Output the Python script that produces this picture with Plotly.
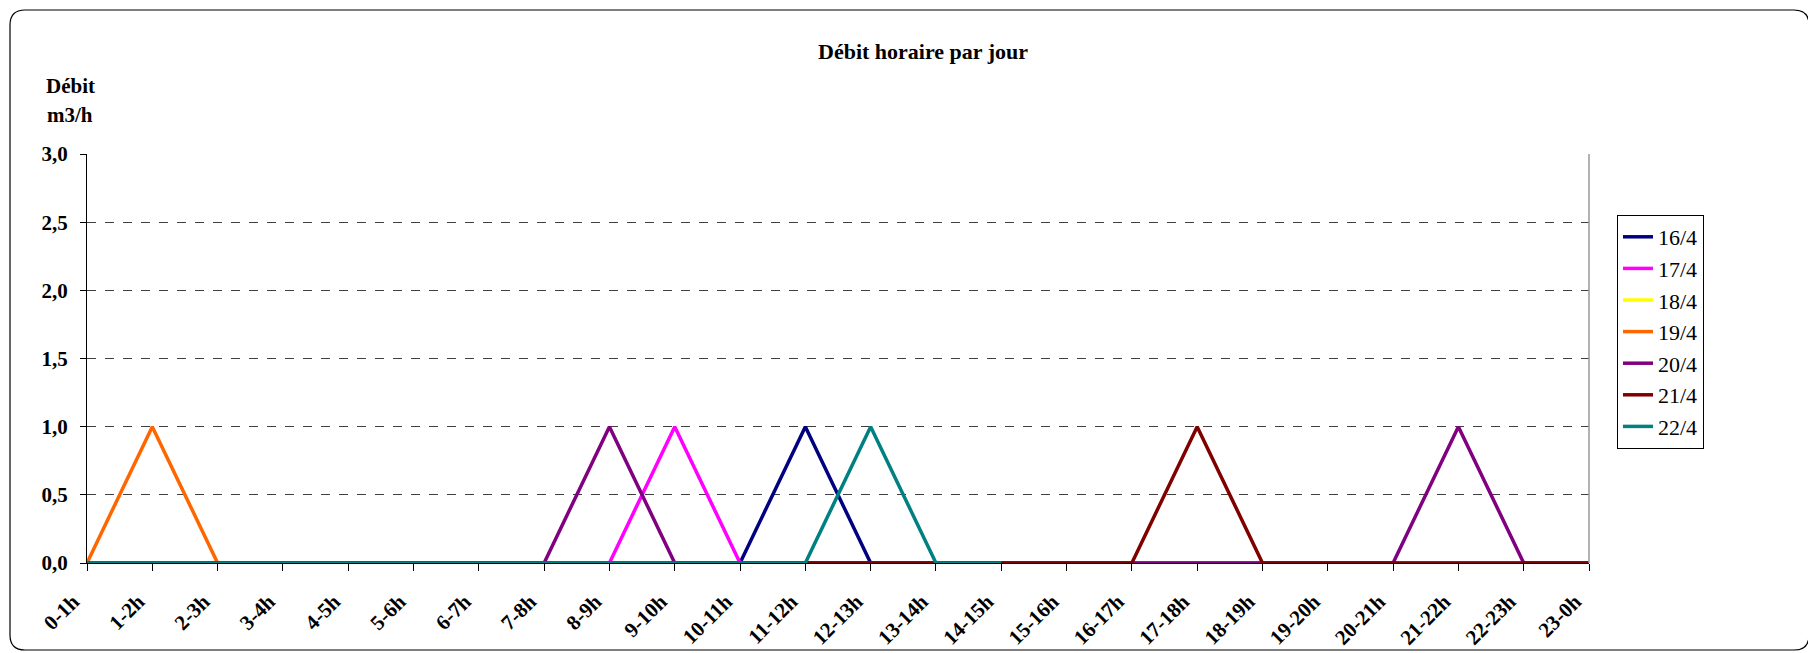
import plotly.graph_objects as go

hours = ["0-1h", "1-2h", "2-3h", "3-4h", "4-5h", "5-6h", "6-7h", "7-8h", "8-9h", "9-10h",
         "10-11h", "11-12h", "12-13h", "13-14h", "14-15h", "15-16h", "16-17h", "17-18h",
         "18-19h", "19-20h", "20-21h", "21-22h", "22-23h", "23-0h"]

d16 = [0, 0, 0, 0, 0, 0, 0, 0, 0, 0, 0, 1, 0, 0, 0, 0, 0, 0, 0, 0, 0, 0, 0, 0]
d17 = [0, 0, 0, 0, 0, 0, 0, 0, 0, 1, 0, 0, 0, 0, 0, 0, 0, 0, 0, 0, 0, 0, 0, 0]
d18 = [0, 0, 0, 0, 0, 0, 0, 0, 0, 0, 0, 0, 0, 0, 0, 0, 0, 0, 0, 0, 0, 0, 0, 0]
d19 = [0, 1, 0, 0, 0, 0, 0, 0, 0, 0, 0, 0, 0, 0, 0, 0, 0, 0, 0, 0, 0, 0, 0, 0]
d20 = [0, 0, 0, 0, 0, 0, 0, 0, 1, 0, 0, 0, 0, 0, 0, 0, 0, 0, 0, 0, 0, 1, 0, 0]
d21 = [0, 0, 0, 0, 0, 0, 0, 0, 0, 0, 0, 0, 0, 0, 0, 0, 0, 1, 0, 0, 0, 0, 0, 0]
d22 = [0, 0, 0, 0, 0, 0, 0, 0, 0, 0, 0, 0, 1, 0, 0]

series_names = ["16/4", "17/4", "18/4", "19/4", "20/4", "21/4", "22/4"]
series_values = [d16, d17, d18, d19, d20, d21, d22]
series_colors = ["#000080", "#FF00FF", "#FFFF00", "#FF6600", "#800080", "#800000", "#008080"]

FONT = "Liberation Serif"

fig = go.Figure()
for name, vals, col in zip(series_names, series_values, series_colors):
    fig.add_trace(go.Scatter(
        x=hours[:len(vals)], y=vals, name=name, mode="lines",
        line=dict(color=col, width=3.5),
    ))

# page has an 8px body margin: figure coords = page coords - 8
OFF = 8
W, H = 1808, 645
L, R, T, B = 87 - OFF, 1589 - OFF, 154 - OFF, 563 - OFF
pw, ph = R - L, B - T

def px(X):
    return (X - OFF - L) / pw

def py(Y):
    return (B - (Y - OFF)) / ph

# rounded border of chart (page coords)
x0, x1, y0, y1 = px(10), px(1809), py(650), py(10)
rx, ry = 15 / pw, 15 / ph
path = (f"M {x0+rx},{y1} L {x1-rx},{y1} Q {x1},{y1} {x1},{y1-ry} "
        f"L {x1},{y0+ry} Q {x1},{y0} {x1-rx},{y0} "
        f"L {x0+rx},{y0} Q {x0},{y0} {x0},{y0+ry} "
        f"L {x0},{y1-ry} Q {x0},{y1} {x0+rx},{y1} Z")

fig.update_layout(
    width=W, height=H,
    margin=dict(l=L, r=W - R, t=T, b=H - B, pad=0, autoexpand=False),
    paper_bgcolor="white", plot_bgcolor="white",
    separators=", ",
    font=dict(family=FONT, color="black", size=20),
    title=dict(text="<b>Débit horaire par jour</b>", x=(923 - OFF) / W, xref="container",
               xanchor="center", y=1 - (51 - OFF) / H, yref="container", yanchor="middle",
               font=dict(family=FONT, size=22, color="black")),
    showlegend=True,
    legend=dict(x=px(1617), y=py(215), xanchor="left", yanchor="top",
                bordercolor="black", borderwidth=1, bgcolor="white",
                font=dict(family=FONT, size=22, color="black"),
                tracegroupgap=0, itemwidth=30),
    shapes=[
        dict(type="path", xref="paper", yref="paper", path=path,
             line=dict(color="black", width=1.2), layer="below"),
        dict(type="line", xref="paper", yref="paper", x0=1, x1=1, y0=0, y1=1,
             line=dict(color="#999999", width=1.5)),
    ],
    annotations=[
        dict(text="<b>Débit</b>", xref="paper", yref="paper", x=px(70), y=py(86),
             xanchor="center", yanchor="middle", showarrow=False,
             font=dict(family=FONT, size=21, color="black")),
        dict(text="<b>m3/h</b>", xref="paper", yref="paper", x=px(70), y=py(115),
             xanchor="center", yanchor="middle", showarrow=False,
             font=dict(family=FONT, size=21, color="black")),
    ],
)

fig.update_xaxes(
    type="category", categoryorder="array", categoryarray=hours,
    range=[0, len(hours) - 1], automargin=False,
    showline=True, linecolor="black", linewidth=1,
    ticks="outside", ticklen=7, tickcolor="black", tickwidth=1,
    tickangle=-45, tickfont=dict(family=FONT, size=21, color="black", weight="bold"),
    showgrid=False, zeroline=False, ticklabelstandoff=10, ticklabelshift=-14,
)
fig.update_yaxes(
    range=[0, 3], dtick=0.5, tick0=0, tickformat=".1f", automargin=False,
    showline=True, linecolor="black", linewidth=1,
    ticks="outside", ticklen=6, tickcolor="black", tickwidth=1,
    tickfont=dict(family=FONT, size=21, color="black", weight="bold"),
    showgrid=True, gridcolor="#404040", gridwidth=1, griddash="dash",
    zeroline=False, ticklabelstandoff=8,
)

fig.write_html("out.html")
